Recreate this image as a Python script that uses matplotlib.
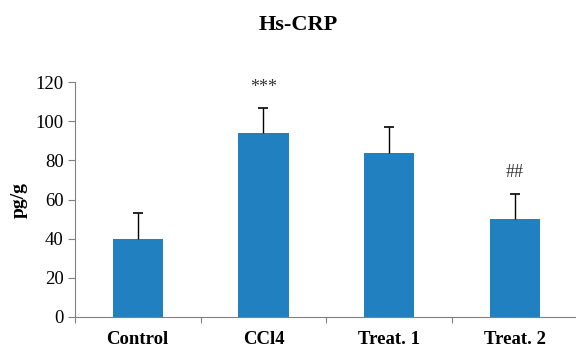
import matplotlib
matplotlib.use("Agg")
import matplotlib.pyplot as plt
import numpy as np

# data
groups = ["Control", "CCl4", "Treat. 1", "Treat. 2"]
means = [40, 94, 84, 50]
errors = [13, 13, 13, 13]
marks = ["", "***", "", "##"]
mark_y = [0, 117, 0, 74]

plt.rcParams['font.family'] = ['Liberation Serif', 'DejaVu Serif']

fig = plt.figure(figsize=(5.76, 3.47), dpi=100)
ax = fig.add_axes([0.130, 0.0865, 0.873, 0.677])

x = np.arange(len(groups))
ax.bar(x, means, width=0.4, color="#2080C0", zorder=2)
eb = ax.errorbar(x, means, yerr=[np.zeros(len(errors)), errors], fmt="none",
                 ecolor="black", elinewidth=1, capsize=3.5, capthick=1.2, zorder=3)
eb[1][0].set_visible(False)  # no cap on the lower (zero) side
for xi, m, my in zip(x, marks, mark_y):
    if m:
        ax.text(xi, my, m, ha="center", va="center", fontsize=13, color="#333333")

ax.set_xlim(-0.5, len(groups) - 0.5)
ax.set_ylim(0, 120)
ax.set_yticks(range(0, 121, 20))
ax.tick_params(axis="y", labelsize=13.5, length=5, color="#808080", pad=3)

# category labels centred, tick marks at boundaries (Excel style)
ax.set_xticks(np.arange(-0.5, len(groups), 1.0))
ax.set_xticklabels([])
ax.set_xticks(x, minor=True)
ax.set_xticklabels(groups, minor=True, fontsize=13.5, fontweight="bold")
ax.tick_params(axis="x", which="minor", length=0, pad=10)
ax.tick_params(axis="x", which="major", length=4, color="#808080")

for s in ["top", "right"]:
    ax.spines[s].set_visible(False)
for s in ["left", "bottom"]:
    ax.spines[s].set_color("#808080")

ax.set_ylabel("pg/g", fontsize=14, fontweight="bold", labelpad=6)
fig.text(0.517, 0.928, "Hs-CRP", ha="center", va="center", fontsize=16, fontweight="bold")

fig.savefig("out.png", dpi=100)
